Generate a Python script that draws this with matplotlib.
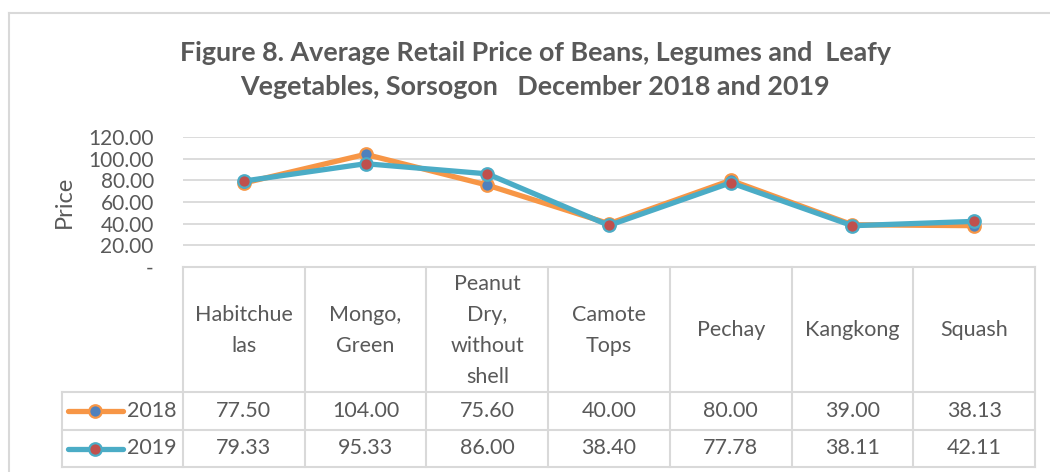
import matplotlib
matplotlib.use("Agg")
import matplotlib.pyplot as plt
from matplotlib.lines import Line2D
from matplotlib.ticker import FuncFormatter, MultipleLocator
from matplotlib.transforms import blended_transform_factory

# ---- data ----
categories = ["Habitchue\nlas", "Mongo,\nGreen", "Peanut\nDry,\nwithout\nshell",
              "Camote\nTops", "Pechay", "Kangkong", "Squash"]
series_names = ["2018", "2019"]
values_2018 = [77.50, 104.00, 75.60, 40.00, 80.00, 39.00, 38.13]
values_2019 = [79.33, 95.33, 86.00, 38.40, 77.78, 38.11, 42.11]
title_text = "Figure 8. Average Retail Price of Beans, Legumes and  Leafy\nVegetables, Sorsogon   December 2018 and 2019"
y_label = "Price"

# ---- style ----
W, H = 1050, 472
TXT = "#595959"
GRID = "#D9D9D9"
line_colors = ["#F79646", "#4BACC6"]
marker_faces = ["#4F81BD", "#C0504D"]
FONT = ["Lato", "DejaVu Sans"]
plt.rcParams["font.family"] = FONT
TFS = 15.5

fig = plt.figure(figsize=(W / 100, H / 100), dpi=100)

def fx(px):
    return px / W

def fy(py):
    return 1 - py / H

ax_left, ax_right = 183, 1035
ax_top, ax_bottom = 137, 267
ax = fig.add_axes([fx(ax_left), fy(ax_bottom), fx(ax_right - ax_left), (ax_bottom - ax_top) / H])

n = len(categories)
xs = list(range(n))
all_series = [values_2018, values_2019]
for vals, lc, mf in zip(all_series, line_colors, marker_faces):
    ax.plot(xs, vals, color=lc, lw=3.8, marker="o", markersize=9,
            markerfacecolor=mf, markeredgecolor=lc, markeredgewidth=1.6,
            solid_capstyle="round", zorder=3)

ax.set_xlim(-0.5, n - 0.5)
ax.set_ylim(0, 120)
ax.yaxis.set_major_locator(MultipleLocator(20))
ax.yaxis.set_major_formatter(FuncFormatter(lambda v, p: "-" if abs(v) < 1e-9 else f"{v:.2f}"))
ax.grid(axis="y", color=GRID, lw=1.3)
ax.set_axisbelow(True)
for s in ax.spines.values():
    s.set_visible(False)
ax.set_xticks([])
ax.tick_params(axis="y", length=0, pad=21, labelsize=15, labelcolor=TXT)
ax.set_ylabel(y_label, fontsize=17, color=TXT, labelpad=10)

# ---- data table under the plot ----
tr = blended_transform_factory(ax.transData, fig.transFigure)
row_hdr_bottom = 392
row_ys = [392, 430, 467]
legend_left = 62

def hline(x0, x1, y, trans):
    ax.add_line(Line2D([x0, x1], [y, y], transform=trans, color=GRID, lw=1.5, clip_on=False))

def vline(x, y0, y1, trans):
    ax.add_line(Line2D([x, x], [y0, y1], transform=trans, color=GRID, lw=1.5, clip_on=False))

hline(-0.5, n - 0.5, fy(ax_bottom), tr)
for y in row_ys:
    hline(fx(legend_left), fx(ax_right), fy(y), fig.transFigure)
for i in range(n + 1):
    vline(i - 0.5, fy(ax_bottom), fy(row_ys[-1]), tr)
vline(fx(legend_left), fy(row_ys[0]), fy(row_ys[-1]), fig.transFigure)

for i, cat in enumerate(categories):
    ax.text(i, fy((ax_bottom + row_hdr_bottom) / 2 + 1), cat, transform=tr,
            ha="center", va="center", fontsize=TFS, color=TXT, linespacing=1.68)

for r, (name, vals, lc, mf) in enumerate(zip(series_names, all_series, line_colors, marker_faces)):
    yc = fy((row_ys[r] + row_ys[r + 1]) / 2)
    for i, v in enumerate(vals):
        ax.text(i, yc, f"{v:.2f}", transform=tr, ha="center", va="center",
                fontsize=TFS, color=TXT)
    fig.add_artist(Line2D([fx(68), fx(123)], [yc, yc], color=lc, lw=3.8,
                          solid_capstyle="round"))
    fig.add_artist(Line2D([fx(95)], [yc], color=lc, marker="o", markersize=9,
                          markerfacecolor=mf, markeredgecolor=lc, markeredgewidth=1.6))
    fig.text(fx(127), yc, name, ha="left", va="center", fontsize=TFS, color=TXT)

fig.text(fx(535), fy(70), title_text, ha="center", va="center", fontsize=19.4,
         fontweight="bold", color=TXT, linespacing=1.5)

fig.add_artist(Line2D([fx(9), 1.0], [fy(13), fy(13)], color=GRID, lw=1.5))
fig.add_artist(Line2D([fx(9), fx(9)], [fy(13), 0.0], color=GRID, lw=1.5))

fig.savefig("out.png", dpi=100, facecolor="white")
